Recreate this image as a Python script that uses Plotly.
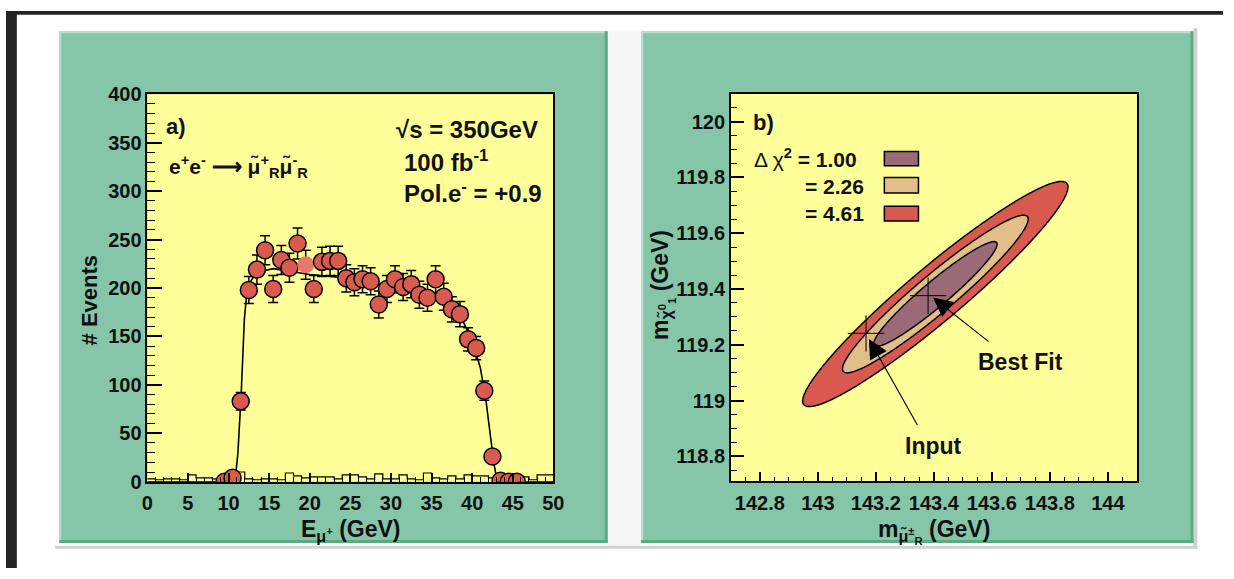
import numpy as np
import plotly.graph_objects as go

W, H = 1234, 579

# ---------------- Panel a data ----------------
energy_centres = [9.5, 10.5, 11.5, 12.5, 13.5, 14.5, 15.5, 16.5, 17.5, 18.5, 19.5, 20.5,
                  21.5, 22.5, 23.5, 24.5, 25.5, 26.5, 27.5, 28.5, 29.5, 30.5, 31.5, 32.5,
                  33.5, 34.5, 35.5, 36.5, 37.5, 38.5, 39.5, 40.5, 41.5, 42.5, 43.5, 44.5, 45.5]
events = [0, 4, 83, 198, 219, 239, 199, 229, 221, 246, 224, 199,
          227, 228, 228, 210, 206, 209, 207, 183, 199, 209, 201, 204,
          193, 190, 209, 191, 178, 173, 147, 138, 94, 26, 1, 0, 0]
event_errors = [0, 2, 9, 14, 15, 15, 14, 15, 15, 16, 15, 14,
                15, 15, 15, 14, 14, 14, 14, 14, 14, 14, 14, 14,
                14, 14, 14, 14, 13, 13, 12, 12, 10, 5, 1, 0, 0]

theory_x = [0, 10.0, 10.5, 10.9, 11.15, 11.35, 11.55, 11.75, 11.95, 12.2, 12.6, 13.2, 14.0,
            15.5, 18.0, 20.0, 22.5, 25.0, 28.0, 32.0, 35.0, 36.5, 37.5, 38.5, 39.5, 40.5,
            41.0, 41.7, 42.3, 42.7, 43.1, 50]
theory_y = [0, 0, 2, 9, 29, 56, 89, 128, 168, 190, 205, 213, 217,
            220, 217, 214, 212, 210, 205, 200, 195, 190, 183, 172, 155, 132,
            118, 84, 44, 18, 0, 0]

bg_edges = list(range(0, 51))
bg_counts = [3, 2, 3, 3, 2, 7, 4, 4, 3, 4, 3, 10, 3, 2, 3, 3, 2, 9, 6, 4,
             5, 5, 5, 3, 7, 7, 5, 3, 8, 3, 3, 7, 3, 2, 9, 4, 3, 6, 3, 7,
             6, 6, 4, 3, 2, 3, 5, 2, 7, 7]

xa_ticks = [0, 5, 10, 15, 20, 25, 30, 35, 40, 45, 50]
xa_labels = ["0", "5", "10", "15", "20", "25", "30", "35", "40", "45", "50"]
ya_ticks = [0, 50, 100, 150, 200, 250, 300, 350, 400]
ya_labels = ["0", "50", "100", "150", "200", "250", "300", "350", "400"]

# ---------------- Panel b data ----------------
smuon_best = 143.405
neutralino_best = 119.382
sigma_smuon = 0.213
sigma_neutralino = 0.188
correlation = 0.95
chi2_levels = [4.61, 2.26, 1.00]
level_colors = ["#D9594F", "#E2BF88", "#9B6A78"]
legend_texts = ["= 4.61", "= 2.26",
                "<span style='font-weight:normal'>Δ χ</span><sup>2</sup> = 1.00"]

xb_ticks = [142.8, 143.0, 143.2, 143.4, 143.6, 143.8, 144.0]
xb_labels = ["142.8", "143", "143.2", "143.4", "143.6", "143.8", "144"]
yb_ticks = [118.8, 119.0, 119.2, 119.4, 119.6, 119.8, 120.0]
yb_labels = ["118.8", "119", "119.2", "119.4", "119.6", "119.8", "120"]

input_mark = [143.166, 119.241]
best_mark = [143.38, 119.376]
best_arrow_tip = [143.397, 119.369]
best_arrow_tail = [143.594, 119.207]
input_arrow_tip = [143.176, 119.2205]
input_arrow_tail = [143.346, 118.907]

# ---------------- colours ----------------
GREEN = "#86C6A8"
GREEN_DARK = "#5CA983"
GREEN_LIGHT = "#B8E0CB"
YELLOW = "#FFFF99"
RED = "#D95B50"
FONT = "Liberation Sans, Arial, Helvetica, sans-serif"


def px(x):
    return x / W


def py(y):
    return 1 - y / H


def bold(labels):
    return [f"<b>{s}</b>" for s in labels]


fig = go.Figure()

# background histogram (step)
fig.add_trace(go.Scatter(x=bg_edges, y=bg_counts + [bg_counts[-1]], mode="lines",
                         line=dict(color="black", width=1.2, shape="hv"),
                         xaxis="x", yaxis="y", hoverinfo="skip"))
# theory curve
fig.add_trace(go.Scatter(x=theory_x, y=theory_y, mode="lines",
                         line=dict(color="black", width=1.6),
                         xaxis="x", yaxis="y", hoverinfo="skip"))
# data points
mcolors = [RED] * len(events)
mlines = [1.5] * len(events)
mcolors[10] = "#E8776C"
mlines[10] = 0
fig.add_trace(go.Scatter(x=energy_centres, y=events, mode="markers",
                         error_y=dict(type="data", array=event_errors, color="black",
                                      thickness=1.5, width=5),
                         marker=dict(size=17, color=mcolors,
                                     line=dict(color="black", width=mlines)),
                         xaxis="x", yaxis="y"))

# chi2 surface for panel b
gx = np.linspace(142.70, 144.10, 351)
gy = np.linspace(118.71, 120.10, 351)
GX, GY = np.meshgrid(gx, gy)
ux = (GX - smuon_best) / sigma_smuon
uy = (GY - neutralino_best) / sigma_neutralino
chi2 = (ux ** 2 - 2 * correlation * ux * uy + uy ** 2) / (1 - correlation ** 2)

for lvl, col in zip(chi2_levels, level_colors):
    fig.add_trace(go.Contour(x=gx, y=gy, z=chi2, xaxis="x2", yaxis="y2",
                             contours=dict(type="constraint", operation=">", value=lvl),
                             fillcolor=col, line=dict(color="black", width=1.5),
                             showscale=False, hoverinfo="skip"))

# input / best-fit crosses
fig.add_trace(go.Scatter(x=[input_mark[0], best_mark[0]], y=[input_mark[1], best_mark[1]],
                         mode="markers", xaxis="x2", yaxis="y2",
                         marker=dict(symbol="cross-thin", size=26,
                                     line=dict(color="black", width=1)),
                         hoverinfo="skip"))

tickfont = dict(family=FONT, size=20, color="#111111")
axis_common = dict(showline=True, linecolor="black", linewidth=1.5, mirror=True,
                   showgrid=False, zeroline=False, ticks="inside", tickcolor="black",
                   tickfont=tickfont, tickmode="array")

fig.update_layout(
    width=W, height=H, margin=dict(l=0, r=0, t=0, b=0),
    font=dict(family=FONT, size=20, color="#111111"),
    paper_bgcolor="white", plot_bgcolor="rgba(0,0,0,0)", showlegend=False,
    xaxis=dict(domain=[px(143.3), px(555)], range=[0, 50], anchor="y",
               tickvals=xa_ticks, ticktext=bold(xa_labels), ticklen=9, tickwidth=1.5,
               ticklabelstandoff=3,
               minor=dict(dtick=1, tick0=0, ticklen=5, ticks="inside", tickwidth=1.2, tickcolor="black", showgrid=False),
               **axis_common),
    yaxis=dict(domain=[py(489.3), py(86.6)], range=[0, 400], anchor="x",
               tickvals=ya_ticks, ticktext=bold(ya_labels), ticklen=15, tickwidth=1.5,
               minor=dict(dtick=10, tick0=0, ticklen=8, ticks="inside", tickwidth=1.2, tickcolor="black", showgrid=False),
               **axis_common),
    xaxis2=dict(domain=[px(735), px(1146.7)], range=[142.70, 144.10], anchor="y2",
                tickvals=xb_ticks, ticktext=bold(xb_labels), ticklen=10, tickwidth=1.5,
                ticklabelstandoff=3,
                minor=dict(dtick=0.05, tick0=142.8, ticklen=5, ticks="inside", tickwidth=1.2, tickcolor="black", showgrid=False),
                **axis_common),
    yaxis2=dict(domain=[py(489), py(86)], range=[118.71, 120.10], anchor="x2",
                tickvals=yb_ticks, ticktext=bold(yb_labels), ticklen=13, tickwidth=1.5,
                minor=dict(dtick=0.05, tick0=118.8, ticklen=6, ticks="inside", tickwidth=1.2, tickcolor="black", showgrid=False),
                **axis_common),
)

shapes = []


def prect(x0, y0, x1, y1, color):
    shapes.append(dict(type="rect", xref="paper", yref="paper", x0=px(x0), x1=px(x1),
                       y0=py(y1), y1=py(y0), fillcolor=color, line=dict(width=0),
                       layer="below"))


# page frame
prect(0, 0, W, 4, "#232323")
prect(0, 0, 11, H, "#232323")
prect(611, 20, 644, 555, "#F6F6F6")
prect(50, 556, 1208, 559, "#D0D0D0")
prect(1204, 18, 1208, 559, "#D0D0D0")
# green panels
for x0, x1 in [(54, 610), (644, 1204)]:
    prect(x0, 21, x1, 553, GREEN)
    prect(x0, 21, x1, 23, GREEN_LIGHT)
    prect(x0, 21, x0 + 2, 553, GREEN_LIGHT)
    prect(x1 - 3, 21, x1, 553, GREEN_DARK)
    prect(x0, 550, x1, 553, GREEN_DARK)

# yellow plot areas
for xr, yr in [("x", "y"), ("x2", "y2")]:
    shapes.append(dict(type="rect", xref=f"{xr} domain", yref=f"{yr} domain",
                       x0=0, x1=1, y0=0, y1=1, fillcolor=YELLOW, line=dict(width=0),
                       layer="below"))

# legend boxes in panel b
box_y = [(0.672, 0.710), (0.744, 0.784), (0.814, 0.851)]
for (y0, y1), col in zip(box_y, level_colors):
    shapes.append(dict(type="rect", xref="x2 domain", yref="y2 domain",
                       x0=0.378, x1=0.462, y0=y0, y1=y1, fillcolor=col,
                       line=dict(color="black", width=1.5), layer="above"))
fig.update_layout(shapes=shapes)

ann = []


def text(x, y, s, size, xanchor="left", angle=0, bold=True, yanchor="middle"):
    ann.append(dict(x=px(x), y=py(y), xref="paper", yref="paper", text=s,
                    showarrow=False, xanchor=xanchor, yanchor=yanchor, textangle=angle,
                    font=dict(family=FONT, size=size, color="#111111",
                              weight="bold" if bold else "normal")))


text(160, 120, "a)", 22)
text(163, 162, "e<sup>+</sup>e<sup>-</sup> ⟶ μ̃<sup>+</sup><sub>R</sub>μ̃<sup>-</sup><sub>R</sub>", 21)
text(393, 123, "√s = 350GeV", 24)
text(402, 156, "100 fb<sup>-1</sup>", 24)
text(402, 188, "Pol.e<sup>-</sup> = +0.9", 24)
text(85, 300, "# Events", 22, xanchor="center", angle=-90)
text(297, 523, "E<sub>μ<sup>+</sup></sub> (GeV)", 23, yanchor="top")

text(755, 116, "b)", 22)
text(808, 210, legend_texts[0], 21)
text(808, 182, legend_texts[1], 21)
text(756, 153, legend_texts[2], 21)
text(1029, 365, "Best Fit", 23, xanchor="center")
text(940, 452, "Input", 23, xanchor="center")
text(665, 285, "m<sub>χ̃<sup>0</sup><sub>1</sub></sub> (GeV)", 23, xanchor="center", angle=-90)
text(882, 523, "m<sub>μ̃<sup>±</sup><sub>R</sub></sub> (GeV)", 23, yanchor="top")

for tip, tail in [(best_arrow_tip, best_arrow_tail), (input_arrow_tip, input_arrow_tail)]:
    ann.append(dict(x=tip[0], y=tip[1], xref="x2", yref="y2",
                    ax=tail[0], ay=tail[1], axref="x2", ayref="y2",
                    text="", showarrow=True, arrowhead=2, arrowsize=3.5,
                    arrowwidth=1.1, arrowcolor="black", standoff=0))

fig.update_layout(annotations=ann)

fig.write_html("out.html")
